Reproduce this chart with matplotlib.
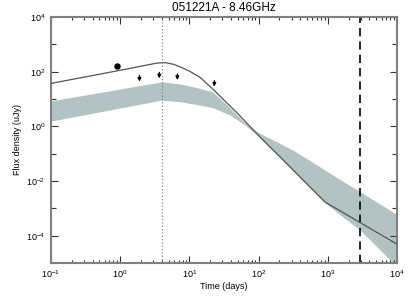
import numpy as np
import matplotlib
matplotlib.use('Agg')
import matplotlib.pyplot as plt
from matplotlib.ticker import LogLocator, LogFormatterSciNotation, NullFormatter

plt.rcParams['font.family'] = ['Liberation Sans', 'DejaVu Sans']
plt.rcParams['mathtext.default'] = 'regular'

# model light curve (log10 days, log10 uJy)
model_logt = [-1.0, -0.5, 0.0, 0.4, 0.55, 0.65, 0.77, 0.88, 1.0, 1.15, 1.34, 1.5, 1.69, 2.02, 2.31, 2.96, 4.0]
model_logf = [1.57, 1.81, 2.05, 2.25, 2.32, 2.33, 2.27, 2.16, 2.02, 1.80, 1.36, 0.96, 0.49, -0.39, -1.12, -2.77, -4.31]

# shaded model range
band_logt = [-1.0, 0.6, 0.864, 1.1, 1.34, 1.59, 1.77, 1.98, 2.497, 2.96, 3.18, 3.465, 3.9, 4.0]
band_hi = [0.93, 1.63, 1.55, 1.42, 1.26, 0.67, 0.21, -0.20, -0.87, -1.60, -1.95, -2.39, -3.07, -3.24]
band_lo = [0.19, 0.96, 0.90, 0.80, 0.68, 0.41, 0.11, -0.32, -1.62, -2.80, -3.24, -3.79, -4.89, -5.1]

# detection and upper limits
det_t = [0.91]
det_f = [162.0]
ul_t = [1.9, 3.67, 6.7, 22.9]
ul_f = [72.0, 94.0, 82.0, 47.0]

t_peak = 4.0
t_dash = 2900.0

x_ticks = [0.1, 1, 10, 100, 1000, 10000]
y_ticks = [1e-4, 1e-2, 1, 1e2, 1e4]

fig = plt.figure(figsize=(4.14, 2.96), dpi=100)
ax = fig.add_axes([0.1232, 0.1115, 0.8357, 0.8311])

bt = 10**np.array(band_logt)
ax.fill_between(bt, 10**np.array(band_lo), 10**np.array(band_hi), color='#b3c3c3', lw=0, zorder=1)
ax.plot(10**np.array(model_logt), 10**np.array(model_logf), color='#555555', lw=0.9, zorder=3)

ax.axvline(t_peak, color='#777777', ls=(0, (1, 2)), lw=0.8, zorder=2)
ax.axvline(t_dash, color='black', ls=(0, (5, 3)), lw=1.2, zorder=2)

ax.plot(det_t, det_f, 'o', color='black', ms=3.6, zorder=4)
for t, f in zip(ul_t, ul_f):
    ax.annotate('', xy=(t, f / 10**0.22), xytext=(t, f),
                arrowprops=dict(arrowstyle='-|>', color='black', lw=0.9,
                                mutation_scale=5, shrinkA=0, shrinkB=0), zorder=4)

ax.set_xscale('log')
ax.set_yscale('log')
ax.set_xlim(0.1, 1e4)
ax.set_ylim(1e-5, 1e4)

ax.set_xticks(x_ticks)
ax.xaxis.set_major_formatter(LogFormatterSciNotation(base=10))
ax.xaxis.set_minor_locator(LogLocator(base=10, subs=np.arange(2, 10), numticks=20))
ax.xaxis.set_minor_formatter(NullFormatter())
ax.set_yticks(y_ticks)
ax.yaxis.set_major_formatter(LogFormatterSciNotation(base=10))
ax.yaxis.set_minor_locator(LogLocator(base=10, subs=(1.0,), numticks=20))
ax.yaxis.set_minor_formatter(NullFormatter())

ax.tick_params(which='both', direction='in', top=True, right=True, color='#333333',
               labelsize=6.5, width=0.8)
ax.tick_params(which='major', length=5, pad=4)
ax.tick_params(axis='y', which='minor', length=3.5)
ax.tick_params(axis='x', which='minor', length=2.5)
for s in ax.spines.values():
    s.set_color('#808080')
    s.set_linewidth(1.5)

ax.set_title('051221A - 8.46GHz', fontsize=8.5, pad=4)
ax.set_xlabel('Time (days)', fontsize=6.5, labelpad=1)
ax.set_ylabel('Flux density (uJy)', fontsize=6.5, labelpad=3)

fig.savefig('out.png', dpi=100)
